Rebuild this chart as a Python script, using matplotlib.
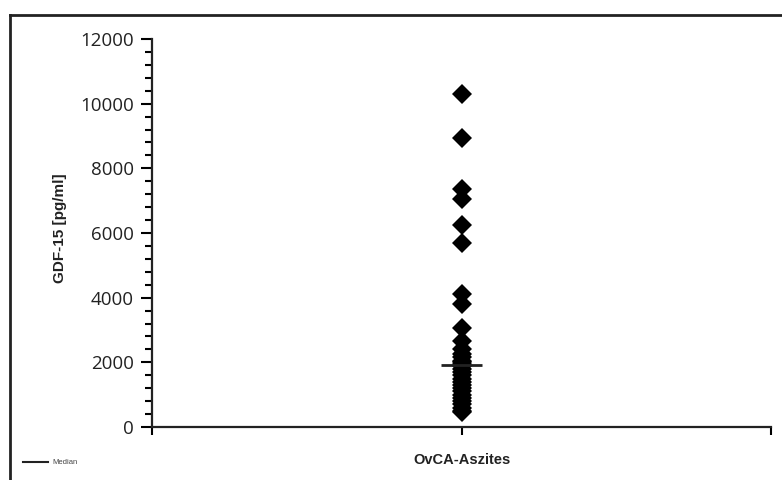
import numpy as np
import matplotlib
matplotlib.use("Agg")
import matplotlib.pyplot as plt
from matplotlib.lines import Line2D
from matplotlib.ticker import MultipleLocator

category = "OvCA-Aszites"
values = [10300, 8950, 7350, 7050, 6250, 5700, 4100, 3800, 3050, 2650,
          2400, 2250, 2150, 2050, 2000, 1950, 1900, 1800, 1700, 1600,
          1500, 1400, 1300, 1200, 1100, 1000, 900, 800, 700, 600, 500, 450]
median = float(np.median(values))
y_ticks = [0, 2000, 4000, 6000, 8000, 10000, 12000]

W, H = 782, 480
fig = plt.figure(figsize=(W / 100, H / 100), dpi=100)
fig.patch.set_facecolor("white")
ax = fig.add_axes([152 / W, 1 - 427 / H, (771 - 152) / W, (427 - 39) / H])

x = np.full(len(values), 1.0)
ax.plot(x, values, linestyle="none", marker="D", markersize=10.5,
        color="black", markeredgewidth=0)
ax.plot([0.935, 1.065], [median, median], color="#222222", lw=2, solid_capstyle="butt")

ax.set_xlim(0, 2)
ax.set_ylim(0, 12000)
ax.set_yticks(y_ticks)
ax.set_yticklabels([str(v) for v in y_ticks], fontfamily="Open Sans", fontsize=13.5,
                   color="#222222")
ax.yaxis.set_minor_locator(MultipleLocator(400))
ax.set_xticks([0, 1, 2])
ax.set_xticklabels([])
ax.tick_params(axis="y", which="major", direction="out", length=8, width=1.5, pad=5)
ax.tick_params(axis="y", which="minor", direction="out", length=5, width=1.5)
ax.tick_params(axis="x", which="major", direction="out", length=6, width=1.5)
for s in ["top", "right"]:
    ax.spines[s].set_visible(False)
for s in ["left", "bottom"]:
    ax.spines[s].set_linewidth(1.6)
    ax.spines[s].set_color("#222222")

fig.text(60 / W, 1 - 228 / H, "GDF-15 [pg/ml]", rotation=90, ha="center", va="center",
         fontfamily="Liberation Sans", fontweight="bold", fontsize=11, color="#222222")
fig.text(462 / W, 1 - 460 / H, category, ha="center", va="center",
         fontfamily="Liberation Sans", fontweight="bold", fontsize=10.5, color="#222222")

# legend
fig.add_artist(Line2D([23 / W, 48 / W], [1 - 462 / H, 1 - 462 / H], color="#222222", lw=1.5))
fig.text(52 / W, 1 - 462 / H, "Median", ha="left", va="center",
         fontfamily="Liberation Sans", fontsize=5.5, color="#444444")

# outer frame (top and left edges)
fig.add_artist(Line2D([10 / W, 1], [1 - 15 / H, 1 - 15 / H], color="#222222", lw=2))
fig.add_artist(Line2D([10 / W, 10 / W], [0, 1 - 15 / H], color="#222222", lw=2))

fig.savefig("out.png", dpi=100, facecolor="white")
